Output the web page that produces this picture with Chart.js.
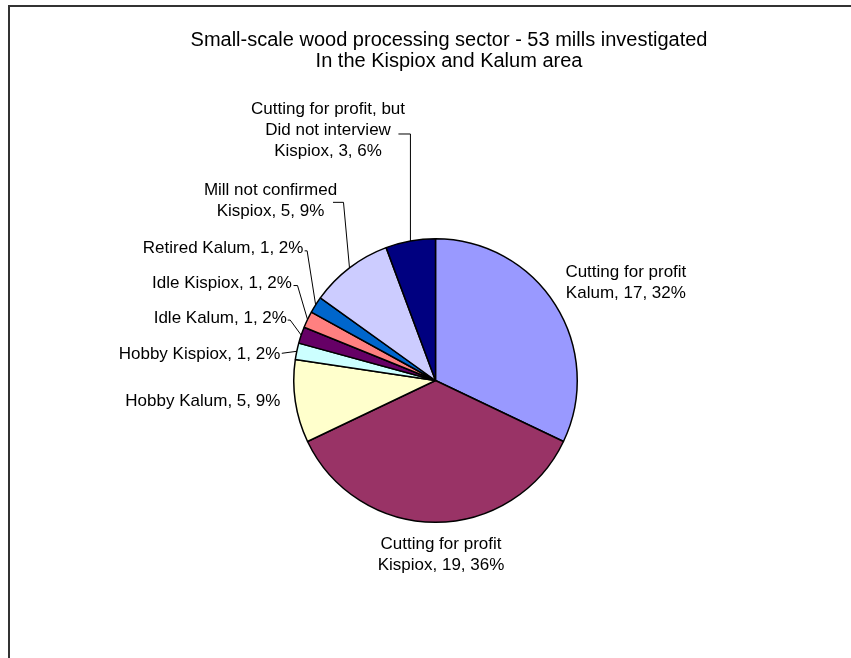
<!DOCTYPE html>
<html>
<head>
<meta charset="utf-8">
<script src="https://cdn.jsdelivr.net/npm/chart.js@4/dist/chart.umd.min.js"></script>
<style>
  html, body { margin: 0; padding: 0; background: #fff; }
  canvas { display: block; }
</style>
</head>
<body>
<canvas id="grafica" width="851" height="658"></canvas>
<script>
// Datos del gráfico
const titleLines = ['Small-scale wood processing sector - 53 mills investigated', 'In the Kispiox and Kalum area'];
const categories = [
    ['Cutting for profit', 'Kalum'],
    ['Cutting for profit', 'Kispiox'],
    ['Hobby Kalum'],
    ['Hobby Kispiox'],
    ['Idle Kalum'],
    ['Idle Kispiox'],
    ['Retired Kalum'],
    ['Mill not confirmed', 'Kispiox'],
    ['Cutting for profit, but', 'Did not interview', 'Kispiox']
];
const mills = [17, 19, 5, 1, 1, 1, 1, 5, 3];
const sliceColors = ['#9999FF', '#993366', '#FFFFCC', '#CCFFFF', '#660066', '#FF8080', '#0066CC', '#CCCCFF', '#000080'];

// Posición de cada etiqueta respecto al punto medio exterior de su porción
const labelLayout = [
    { dx: 70.5, dy: -21.6, align: 'center' },
    { dx: 5.5, dy: 32.5, align: 'center' },
    { dx: -15, dy: 0, align: 'right' },
    { dx: -16.5, dy: 2.8, align: 'right', leader: [[-15, 2]] },
    { dx: -14.3, dy: -17, align: 'right', leader: [[-11, -15], [-13.5, -15]] },
    { dx: -15.6, dy: -36, align: 'right', leader: [[-10, -34], [-14, -34]] },
    { dx: -12.2, dy: -56.3, align: 'right', leader: [[-8.5, -54], [-11, -54]] },
    { dx: -79, dy: -67, align: 'center', leader: [[-6, -65.5], [-16.5, -65.5]] },
    { dx: -82.4, dy: -110.7, align: 'center', leader: [[0, -107], [-12, -107]] }
];

const FONT = "'Liberation Sans', Arial, sans-serif";
const total = mills.reduce((a, b) => a + b, 0);

const etiquetas = {
    id: 'etiquetas',
    beforeDraw(chart) {
        const ctx = chart.ctx;
        ctx.save();
        ctx.fillStyle = '#fff';
        ctx.fillRect(0, 0, chart.width, chart.height);
        // marco
        ctx.strokeStyle = '#333';
        ctx.lineWidth = 2;
        ctx.beginPath();
        ctx.moveTo(9, chart.height);
        ctx.lineTo(9, 6);
        ctx.lineTo(chart.width, 6);
        ctx.stroke();
        ctx.restore();
    },
    afterDraw(chart) {
        const ctx = chart.ctx;
        const arcs = chart.getDatasetMeta(0).data;
        ctx.save();
        ctx.fillStyle = '#000';
        ctx.textBaseline = 'middle';

        // título
        ctx.font = '20px ' + FONT;
        ctx.textAlign = 'center';
        ctx.fillText(titleLines[0], 449, 40);
        ctx.fillText(titleLines[1], 449, 61);

        ctx.font = '17px ' + FONT;
        ctx.strokeStyle = '#000';
        ctx.lineWidth = 1;
        arcs.forEach((arc, i) => {
            const mid = (arc.startAngle + arc.endAngle) / 2;
            const px = arc.x + Math.cos(mid) * arc.outerRadius;
            const py = arc.y + Math.sin(mid) * arc.outerRadius;
            const lay = labelLayout[i];
            const pct = Math.round(mills[i] / total * 100);
            const lines = categories[i].slice();
            lines[lines.length - 1] += ', ' + mills[i] + ', ' + pct + '%';

            if (lay.leader) {
                ctx.beginPath();
                ctx.moveTo(px, py);
                lay.leader.forEach(p => ctx.lineTo(px + p[0], py + p[1]));
                ctx.stroke();
            }

            const lh = 21;
            const x = px + lay.dx;
            const y0 = py + lay.dy - (lines.length - 1) * lh / 2;
            ctx.textAlign = lay.align;
            lines.forEach((t, k) => ctx.fillText(t, x, y0 + k * lh));
        });
        ctx.restore();
    }
};

const ctx = document.getElementById('grafica').getContext('2d');
new Chart(ctx, {
    type: 'pie',
    data: {
        labels: categories.map(c => c.join(' ')),
        datasets: [{
            data: mills,
            backgroundColor: sliceColors,
            borderColor: '#000',
            borderWidth: 1.5
        }]
    },
    options: {
        responsive: false,
        animation: false,
        events: [],
        layout: { padding: { left: 293, top: 238, right: 273, bottom: 135 } },
        plugins: {
            legend: { display: false },
            tooltip: { enabled: false },
            title: { display: false }
        }
    },
    plugins: [etiquetas]
});
</script>
</body>
</html>
